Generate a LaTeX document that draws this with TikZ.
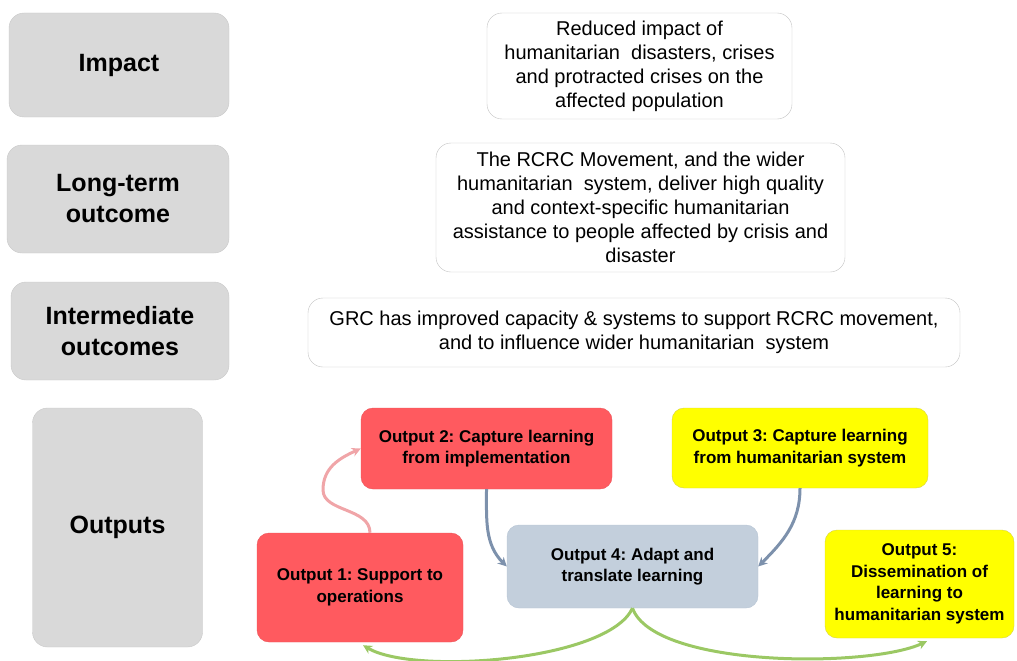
\documentclass[tikz,border=0pt]{standalone}
\usepackage{fontspec}
\setmainfont{Liberation Sans}
\usetikzlibrary{arrows.meta}
\frenchspacing

\definecolor{levelgray}{RGB}{217,217,217}
\definecolor{levelline}{RGB}{200,200,200}
\definecolor{boxline}{RGB}{195,195,195}
\definecolor{outred}{RGB}{255,90,95}
\definecolor{outredline}{RGB}{235,85,90}
\definecolor{outyellow}{RGB}{255,255,0}
\definecolor{outyellowline}{RGB}{215,210,70}
\definecolor{outblue}{RGB}{195,207,220}
\definecolor{outblueline}{RGB}{182,196,212}
\definecolor{pinkline}{RGB}{240,165,168}
\definecolor{slateline}{RGB}{125,145,172}
\definecolor{greenline}{RGB}{155,200,100}

\tikzset{
  level/.style={draw=levelline, fill=levelgray, rounded corners=15pt, align=center,
    inner sep=0pt, font=\fontsize{25}{31}\selectfont\bfseries},
  result/.style={draw=boxline, fill=white, rounded corners=15pt, align=center,
    inner sep=0pt, font=\fontsize{20}{24}\selectfont},
  outbox/.style={rounded corners=12pt, align=center, inner sep=0pt,
    font=\fontsize{17}{21.5}\selectfont\bfseries},
  redbox/.style={outbox, draw=outredline, fill=outred},
  yellowbox/.style={outbox, draw=outyellowline, fill=outyellow},
  bluebox/.style={outbox, draw=outblueline, fill=outblue},
  flow/.style={line width=3pt, -{Stealth[length=9pt,width=9pt]}},
}

\begin{document}
\begin{tikzpicture}[x=1pt, y=1pt]
    \useasboundingbox (0,0) rectangle (1017,-661);

    % levels on the left
    \node (impact) at (119,-65) [level, minimum width=220pt, minimum height=104pt] {Impact};
    \node (longterm) at (118,-199) [level, minimum width=222pt, minimum height=108pt] {Long-term\\outcome};
    \node (intermediate) at (120,-331) [level, minimum width=218pt, minimum height=98pt] {Intermediate\\outcomes};
    \node (outputs) at (117.5,-527.5) [level, minimum width=170pt, minimum height=239pt] {Outputs};

    % statements
    \node (impacttxt) at (639.5,-66) [result, minimum width=305pt, minimum height=106pt]
      {Reduced impact of\\humanitarian~ disasters, crises\\and protracted crises on the\\affected population};
    \node (longtxt) at (640.5,-207.5) [result, minimum width=409pt, minimum height=129pt]
      {The RCRC Movement, and the wider\\humanitarian~ system, deliver high quality\\and context-specific humanitarian\\assistance to people affected by crisis and\\disaster};
    \node (intertxt) at (634,-332.5) [result, minimum width=652pt, minimum height=69pt]
      {GRC has improved capacity \& systems to support RCRC movement,\\and to influence wider humanitarian~ system};

    % outputs
    \node (o2) at (486.5,-448.5) [redbox, minimum width=251pt, minimum height=81pt]
      {Output 2: Capture learning\\from implementation};
    \node (o3) at (800,-448) [yellowbox, minimum width=256pt, minimum height=80pt]
      {Output 3: Capture learning\\from humanitarian system};
    \node (o4) at (632.5,-566.5) [bluebox, minimum width=251pt, minimum height=83pt]
      {Output 4: Adapt and\\translate learning};
    \node (o1) at (360,-587.5) [redbox, minimum width=206pt, minimum height=109pt]
      {Output 1: Support to\\operations};
    \node (o5) at (919.5,-584) [yellowbox, minimum width=189pt, minimum height=108pt]
      {Output 5:\\Dissemination of\\learning to\\humanitarian system};

    % connectors
    \coordinate (pinkbend) at (323,-490);
    \draw[flow, pinkline] ([xshift=10pt]o1.north) .. controls +(0,25) and +(0,-22) .. (pinkbend)
      .. controls +(0,22) and +(-22,-10) .. (o2.west);
    \draw[flow, slateline] (o2.south) to[out=-90, in=135] (o4.west);
    \draw[flow, slateline] (o3.south) to[out=-90, in=45] (o4.east);
    \draw[flow, greenline] (o4.south) to[out=-115, in=-31, looseness=0.55] ([xshift=3pt,yshift=-3pt]o1.south);
    \draw[flow, greenline] (o4.south) to[out=-70, in=205, looseness=0.55] ([xshift=7.5pt,yshift=-3pt]o5.south);
\end{tikzpicture}
\end{document}
